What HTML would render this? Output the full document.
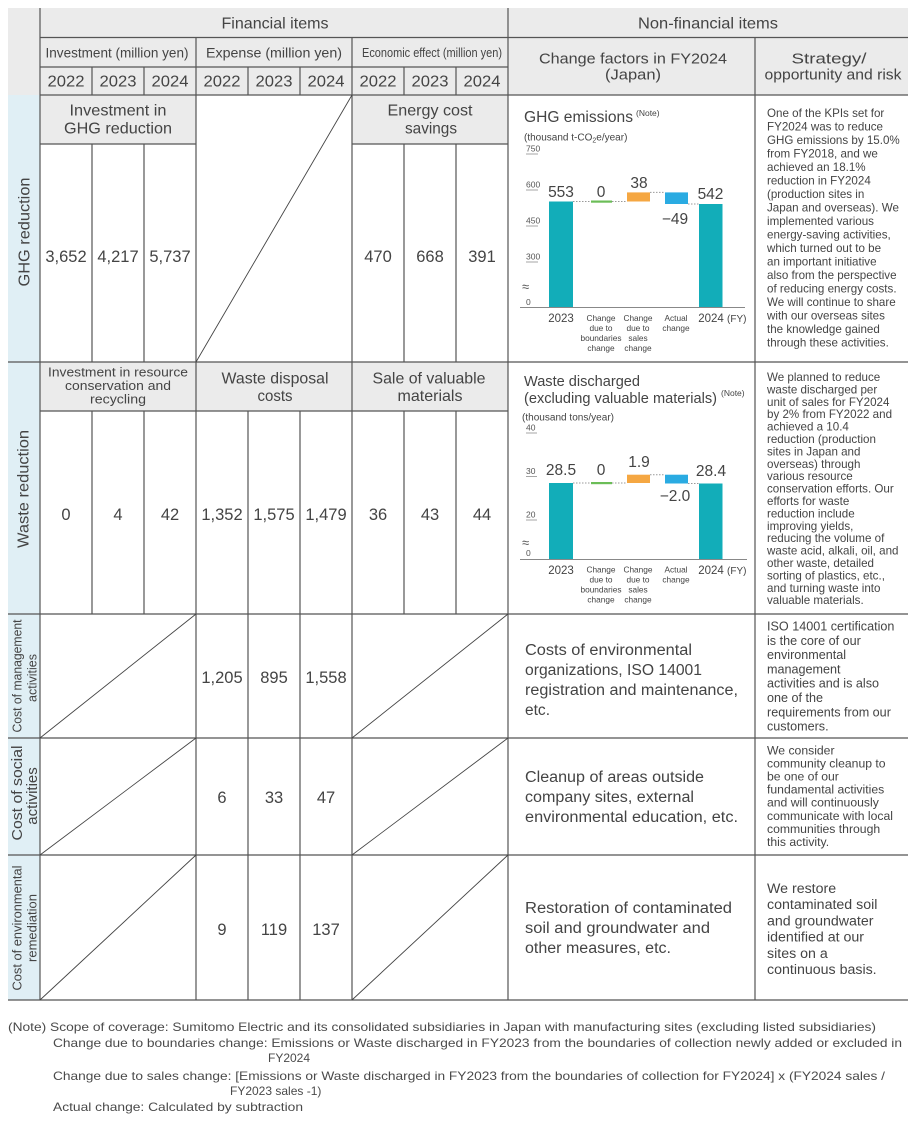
<!DOCTYPE html>
<html>
<head>
<meta charset="utf-8">
<style>
html,body{margin:0;padding:0;background:#fff;}
svg{display:block;}
</style>
</head>
<body>
<svg width="916" height="1124" viewBox="0 0 916 1124" xmlns="http://www.w3.org/2000/svg" font-family="'Liberation Sans', Arial, sans-serif" fill="#444">
<!-- backgrounds -->
<rect x="0" y="0" width="916" height="1124" fill="#ffffff"/>
<rect x="8" y="8" width="900" height="87" fill="#ebebeb"/>
<rect x="8" y="95" width="32" height="905" fill="#e0eff5"/>
<rect x="40" y="95" width="156" height="49" fill="#ebebeb"/>
<rect x="352" y="95" width="156" height="49" fill="#ebebeb"/>
<rect x="40" y="362" width="468" height="49" fill="#ebebeb"/>

<!-- grid lines -->
<path fill="none" stroke="#555" stroke-width="1.2" d="
M40 37.5 H908 M40 67 H508 M40 95 H908
M40 144 H196 M352 144 H508
M8 362 H908 M40 411 H508
M8 614 H908 M8 738 H908 M8 855 H908 M8 1000 H908
M40 8 V1000 M508 8 V1000 M196 37 V1000 M352 37 V1000 M755 37 V1000
M92 67 V95 M144 67 V95 M248 67 V95 M300 67 V95 M404 67 V95 M456 67 V95
M92 144 V362 M144 144 V362 M404 144 V362 M456 144 V362
M92 411 V614 M144 411 V614 M248 411 V614 M300 411 V614 M404 411 V614 M456 411 V614
M248 614 V1000 M300 614 V1000"/>
<path fill="none" stroke="#444" stroke-width="0.9" d="
M196 362 L352 95
M40 738 L196 614 M352 738 L508 614
M40 855 L196 738 M352 855 L508 738
M40 1000 L196 855 M352 1000 L508 855"/>

<!-- header text -->
<g text-anchor="middle" font-size="16">
<text x="275" y="28.5" textLength="107" lengthAdjust="spacingAndGlyphs">Financial items</text>
<text x="708" y="28.5" textLength="140" lengthAdjust="spacingAndGlyphs">Non-financial items</text>
<text x="117" y="57.5" font-size="13.5" textLength="143" lengthAdjust="spacingAndGlyphs">Investment (million yen)</text>
<text x="274" y="57.5" font-size="13.5" textLength="136" lengthAdjust="spacingAndGlyphs">Expense (million yen)</text>
<text x="432" y="57" font-size="12.5" textLength="140" lengthAdjust="spacingAndGlyphs">Economic effect (million yen)</text>
<text x="66" y="86.5" textLength="37" lengthAdjust="spacingAndGlyphs">2022</text>
<text x="118" y="86.5" textLength="37" lengthAdjust="spacingAndGlyphs">2023</text>
<text x="170" y="86.5" textLength="37" lengthAdjust="spacingAndGlyphs">2024</text>
<text x="222" y="86.5" textLength="37" lengthAdjust="spacingAndGlyphs">2022</text>
<text x="274" y="86.5" textLength="37" lengthAdjust="spacingAndGlyphs">2023</text>
<text x="326" y="86.5" textLength="37" lengthAdjust="spacingAndGlyphs">2024</text>
<text x="378" y="86.5" textLength="37" lengthAdjust="spacingAndGlyphs">2022</text>
<text x="430" y="86.5" textLength="37" lengthAdjust="spacingAndGlyphs">2023</text>
<text x="482" y="86.5" textLength="37" lengthAdjust="spacingAndGlyphs">2024</text>
<text x="633" y="63.5" font-size="15" textLength="188" lengthAdjust="spacingAndGlyphs">Change factors in FY2024</text>
<text x="633" y="79.5" font-size="15" textLength="56" lengthAdjust="spacingAndGlyphs">(Japan)</text>
<text x="829" y="63.5" font-size="15" textLength="75" lengthAdjust="spacingAndGlyphs">Strategy/</text>
<text x="833" y="79.5" font-size="15" textLength="137" lengthAdjust="spacingAndGlyphs">opportunity and risk</text>

<!-- GHG subheaders -->
<text x="118" y="115.5" textLength="97" lengthAdjust="spacingAndGlyphs">Investment in</text>
<text x="118" y="133.5" textLength="108" lengthAdjust="spacingAndGlyphs">GHG reduction</text>
<text x="430" y="115.5" textLength="85" lengthAdjust="spacingAndGlyphs">Energy cost</text>
<text x="431" y="133.5" textLength="52" lengthAdjust="spacingAndGlyphs">savings</text>

<!-- Waste subheaders -->
<text x="118" y="376.5" font-size="13" textLength="140" lengthAdjust="spacingAndGlyphs">Investment in resource</text>
<text x="118" y="390" font-size="13" textLength="106" lengthAdjust="spacingAndGlyphs">conservation and</text>
<text x="118" y="403.5" font-size="13" textLength="56" lengthAdjust="spacingAndGlyphs">recycling</text>
<text x="275" y="383.5" textLength="107" lengthAdjust="spacingAndGlyphs">Waste disposal</text>
<text x="275" y="401" textLength="35" lengthAdjust="spacingAndGlyphs">costs</text>
<text x="429" y="383.5" textLength="113" lengthAdjust="spacingAndGlyphs">Sale of valuable</text>
<text x="430" y="401" textLength="65" lengthAdjust="spacingAndGlyphs">materials</text>
</g>

<!-- numbers -->
<g text-anchor="middle" font-size="16.5">
<text x="66" y="262">3,652</text>
<text x="118" y="262">4,217</text>
<text x="170" y="262">5,737</text>
<text x="378" y="262">470</text>
<text x="430" y="262">668</text>
<text x="482" y="262">391</text>

<text x="66" y="520">0</text>
<text x="118" y="520">4</text>
<text x="170" y="520">42</text>
<text x="222" y="520">1,352</text>
<text x="274" y="520">1,575</text>
<text x="326" y="520">1,479</text>
<text x="378" y="520">36</text>
<text x="430" y="520">43</text>
<text x="482" y="520">44</text>

<text x="222" y="683">1,205</text>
<text x="274" y="683">895</text>
<text x="326" y="683">1,558</text>

<text x="222" y="803">6</text>
<text x="274" y="803">33</text>
<text x="326" y="803">47</text>

<text x="222" y="935">9</text>
<text x="274" y="935">119</text>
<text x="326" y="935">137</text>
</g>

<!-- rotated row labels -->
<g text-anchor="middle">
<text transform="translate(24,232) rotate(-90)" y="5.6" font-size="16" textLength="109" lengthAdjust="spacingAndGlyphs">GHG reduction</text>
<text transform="translate(23,489) rotate(-90)" y="5.6" font-size="16" textLength="118" lengthAdjust="spacingAndGlyphs">Waste reduction</text>
<text transform="translate(17,676) rotate(-90)" y="4.4" font-size="12.5" textLength="113" lengthAdjust="spacingAndGlyphs">Cost of management</text>
<text transform="translate(32,678) rotate(-90)" y="4.4" font-size="12.5">activities</text>
<text transform="translate(17,793) rotate(-90)" y="5" font-size="15" textLength="95" lengthAdjust="spacingAndGlyphs">Cost of social</text>
<text transform="translate(32,796) rotate(-90)" y="5" font-size="15">activities</text>
<text transform="translate(17,928) rotate(-90)" y="4.5" font-size="13" textLength="125" lengthAdjust="spacingAndGlyphs">Cost of environmental</text>
<text transform="translate(32,928) rotate(-90)" y="4.5" font-size="13">remediation</text>
</g>

<!-- change factors texts -->
<g font-size="15.5">
<text x="525" y="655" textLength="167" lengthAdjust="spacingAndGlyphs">Costs of environmental</text>
<text x="525" y="675" textLength="177" lengthAdjust="spacingAndGlyphs">organizations, ISO 14001</text>
<text x="525" y="695" textLength="213" lengthAdjust="spacingAndGlyphs">registration and maintenance,</text>
<text x="525" y="715" textLength="25" lengthAdjust="spacingAndGlyphs">etc.</text>

<text x="525" y="782" textLength="179" lengthAdjust="spacingAndGlyphs">Cleanup of areas outside</text>
<text x="525" y="802" textLength="169" lengthAdjust="spacingAndGlyphs">company sites, external</text>
<text x="525" y="822" textLength="213" lengthAdjust="spacingAndGlyphs">environmental education, etc.</text>

<text x="525" y="913" textLength="207" lengthAdjust="spacingAndGlyphs">Restoration of contaminated</text>
<text x="525" y="933" textLength="185" lengthAdjust="spacingAndGlyphs">soil and groundwater and</text>
<text x="525" y="953" textLength="146" lengthAdjust="spacingAndGlyphs">other measures, etc.</text>
</g>

<!-- strategy texts -->
<text font-size="11.6">
<tspan x="767" y="117">One of the KPIs set for</tspan>
<tspan x="767" dy="13.5">FY2024 was to reduce</tspan>
<tspan x="767" dy="13.5">GHG emissions by 15.0%</tspan>
<tspan x="767" dy="13.5">from FY2018, and we</tspan>
<tspan x="767" dy="13.5">achieved an 18.1%</tspan>
<tspan x="767" dy="13.5">reduction in FY2024</tspan>
<tspan x="767" dy="13.5">(production sites in</tspan>
<tspan x="767" dy="13.5">Japan and overseas). We</tspan>
<tspan x="767" dy="13.5">implemented various</tspan>
<tspan x="767" dy="13.5">energy-saving activities,</tspan>
<tspan x="767" dy="13.5">which turned out to be</tspan>
<tspan x="767" dy="13.5">an important initiative</tspan>
<tspan x="767" dy="13.5">also from the perspective</tspan>
<tspan x="767" dy="13.5">of reducing energy costs.</tspan>
<tspan x="767" dy="13.5">We will continue to share</tspan>
<tspan x="767" dy="13.5">with our overseas sites</tspan>
<tspan x="767" dy="13.5">the knowledge gained</tspan>
<tspan x="767" dy="13.5">through these activities.</tspan>
</text>
<text font-size="11.6">
<tspan x="767" y="381">We planned to reduce</tspan>
<tspan x="767" dy="12.4">waste discharged per</tspan>
<tspan x="767" dy="12.4">unit of sales for FY2024</tspan>
<tspan x="767" dy="12.4">by 2% from FY2022 and</tspan>
<tspan x="767" dy="12.4">achieved a 10.4</tspan>
<tspan x="767" dy="12.4">reduction (production</tspan>
<tspan x="767" dy="12.4">sites in Japan and</tspan>
<tspan x="767" dy="12.4">overseas) through</tspan>
<tspan x="767" dy="12.4">various resource</tspan>
<tspan x="767" dy="12.4">conservation efforts. Our</tspan>
<tspan x="767" dy="12.4">efforts for waste</tspan>
<tspan x="767" dy="12.4">reduction include</tspan>
<tspan x="767" dy="12.4">improving yields,</tspan>
<tspan x="767" dy="12.4">reducing the volume of</tspan>
<tspan x="767" dy="12.4">waste acid, alkali, oil, and</tspan>
<tspan x="767" dy="12.4">other waste, detailed</tspan>
<tspan x="767" dy="12.4">sorting of plastics, etc.,</tspan>
<tspan x="767" dy="12.4">and turning waste into</tspan>
<tspan x="767" dy="12.4">valuable materials.</tspan>
</text>
<text font-size="12.6">
<tspan x="767" y="630.5">ISO 14001 certification</tspan>
<tspan x="767" dy="14.3">is the core of our</tspan>
<tspan x="767" dy="14.3">environmental</tspan>
<tspan x="767" dy="14.3">management</tspan>
<tspan x="767" dy="14.3">activities and is also</tspan>
<tspan x="767" dy="14.3">one of the</tspan>
<tspan x="767" dy="14.3">requirements from our</tspan>
<tspan x="767" dy="14.3">customers.</tspan>
</text>
<text font-size="12.2">
<tspan x="767" y="754.3">We consider</tspan>
<tspan x="767" dy="13.1">community cleanup to</tspan>
<tspan x="767" dy="13.1">be one of our</tspan>
<tspan x="767" dy="13.1">fundamental activities</tspan>
<tspan x="767" dy="13.1">and will continuously</tspan>
<tspan x="767" dy="13.1">communicate with local</tspan>
<tspan x="767" dy="13.1">communities through</tspan>
<tspan x="767" dy="13.1">this activity.</tspan>
</text>
<text font-size="14.2">
<tspan x="767" y="893">We restore</tspan>
<tspan x="767" dy="16.2">contaminated soil</tspan>
<tspan x="767" dy="16.2">and groundwater</tspan>
<tspan x="767" dy="16.2">identified at our</tspan>
<tspan x="767" dy="16.2">sites on a</tspan>
<tspan x="767" dy="16.2">continuous basis.</tspan>
</text>

<!-- GHG chart -->
<g>
<text x="524" y="122" font-size="15.5" textLength="109" lengthAdjust="spacingAndGlyphs">GHG emissions</text>
<text x="636" y="116" font-size="8.5">(Note)</text>
<text x="524" y="140.5" font-size="10">(thousand t-CO<tspan font-size="7" dy="2">2</tspan><tspan dy="-2">e/year)</tspan></text>
<g font-size="8.5" fill="#555">
<text x="526" y="151.5">750</text>
<text x="526" y="187.5">600</text>
<text x="526" y="223.5">450</text>
<text x="526" y="259.5">300</text>
<text x="522" y="291" font-size="13">≈</text>
<text x="526" y="305">0</text>
</g>
<path stroke="#888" stroke-width="0.8" d="M526 154 H538 M526 190 H538 M526 226 H538 M526 262 H538"/>
<path stroke="#888" stroke-width="1" d="M520 307.5 H745"/>
<rect x="549" y="201.5" width="24" height="105.5" fill="#12adb9"/>
<rect x="699" y="204" width="23.5" height="103" fill="#12adb9"/>
<rect x="591" y="200.5" width="21" height="2.2" fill="#6bbd57"/>
<rect x="627" y="192.4" width="23" height="9.1" fill="#f5a742"/>
<rect x="665" y="192.4" width="23" height="11.6" fill="#2aabe2"/>
<path stroke="#999" stroke-width="1" stroke-dasharray="1.5 1.5" fill="none" d="M573 201.5 H591 M612 201.5 H627 M650 192.4 H665 M688 204 H699"/>
<g font-size="15.5" text-anchor="middle">
<text x="561" y="197">553</text>
<text x="601" y="197">0</text>
<text x="639" y="188">38</text>
<text x="675" y="224">−49</text>
<text x="710.5" y="199">542</text>
</g>
<g text-anchor="middle" font-size="11.5">
<text x="561" y="322">2023</text>
<text x="711" y="322">2024</text>
</g>
<text x="727" y="322" font-size="10">(FY)</text>
<g text-anchor="middle" font-size="8.3">
<text x="601" y="321">Change</text>
<text x="601" y="331">due to</text>
<text x="601" y="341">boundaries</text>
<text x="601" y="351">change</text>
<text x="638" y="321">Change</text>
<text x="638" y="331">due to</text>
<text x="638" y="341">sales</text>
<text x="638" y="351">change</text>
<text x="676" y="321">Actual</text>
<text x="676" y="331">change</text>
</g>
</g>

<!-- Waste chart -->
<g>
<text x="524" y="386" font-size="15" textLength="116" lengthAdjust="spacingAndGlyphs">Waste discharged</text>
<text x="524" y="403" font-size="15" textLength="193" lengthAdjust="spacingAndGlyphs">(excluding valuable materials)</text>
<text x="721" y="396" font-size="8.5">(Note)</text>
<text x="522" y="420.5" font-size="10" textLength="92" lengthAdjust="spacingAndGlyphs">(thousand tons/year)</text>
<g font-size="8.5" fill="#555">
<text x="526" y="430.5">40</text>
<text x="526" y="474">30</text>
<text x="526" y="517.5">20</text>
<text x="522" y="547" font-size="13">≈</text>
<text x="526" y="556">0</text>
</g>
<path stroke="#888" stroke-width="0.8" d="M526 433 H537 M526 476.5 H537 M526 520 H537"/>
<path stroke="#888" stroke-width="1" d="M520 559.5 H747"/>
<rect x="549" y="483" width="24" height="76" fill="#12adb9"/>
<rect x="699" y="483.5" width="23.5" height="75.5" fill="#12adb9"/>
<rect x="591" y="482" width="21" height="2.2" fill="#6bbd57"/>
<rect x="627" y="474.7" width="23" height="8.3" fill="#f5a742"/>
<rect x="665" y="474.7" width="23" height="8.8" fill="#2aabe2"/>
<path stroke="#999" stroke-width="1" stroke-dasharray="1.5 1.5" fill="none" d="M573 483 H591 M612 483 H627 M650 474.7 H665 M688 483.5 H699"/>
<g font-size="15.5" text-anchor="middle">
<text x="561" y="475">28.5</text>
<text x="601" y="475">0</text>
<text x="639" y="467">1.9</text>
<text x="675" y="501">−2.0</text>
<text x="711" y="476">28.4</text>
</g>
<g text-anchor="middle" font-size="11.5">
<text x="561" y="574">2023</text>
<text x="711" y="574">2024</text>
</g>
<text x="727" y="574" font-size="10">(FY)</text>
<g text-anchor="middle" font-size="8.3">
<text x="601" y="572.5">Change</text>
<text x="601" y="582.5">due to</text>
<text x="601" y="592.5">boundaries</text>
<text x="601" y="602.5">change</text>
<text x="638" y="572.5">Change</text>
<text x="638" y="582.5">due to</text>
<text x="638" y="592.5">sales</text>
<text x="638" y="602.5">change</text>
<text x="676" y="572.5">Actual</text>
<text x="676" y="582.5">change</text>
</g>
</g>

<!-- footnote -->
<g font-size="12" fill="#4a4a4a">
<text x="8" y="1031" textLength="868" lengthAdjust="spacingAndGlyphs">(Note) Scope of coverage: Sumitomo Electric and its consolidated subsidiaries in Japan with manufacturing sites (excluding listed subsidiaries)</text>
<text x="53" y="1047" textLength="849" lengthAdjust="spacingAndGlyphs">Change due to boundaries change: Emissions or Waste discharged in FY2023 from the boundaries of collection newly added or excluded in</text>
<text x="268" y="1062">FY2024</text>
<text x="53" y="1080" textLength="832" lengthAdjust="spacingAndGlyphs">Change due to sales change: [Emissions or Waste discharged in FY2023 from the boundaries of collection for FY2024] x (FY2024 sales /</text>
<text x="230" y="1095">FY2023 sales -1)</text>
<text x="53" y="1111" textLength="250" lengthAdjust="spacingAndGlyphs">Actual change: Calculated by subtraction</text>
</g>
</svg>
</body>
</html>
